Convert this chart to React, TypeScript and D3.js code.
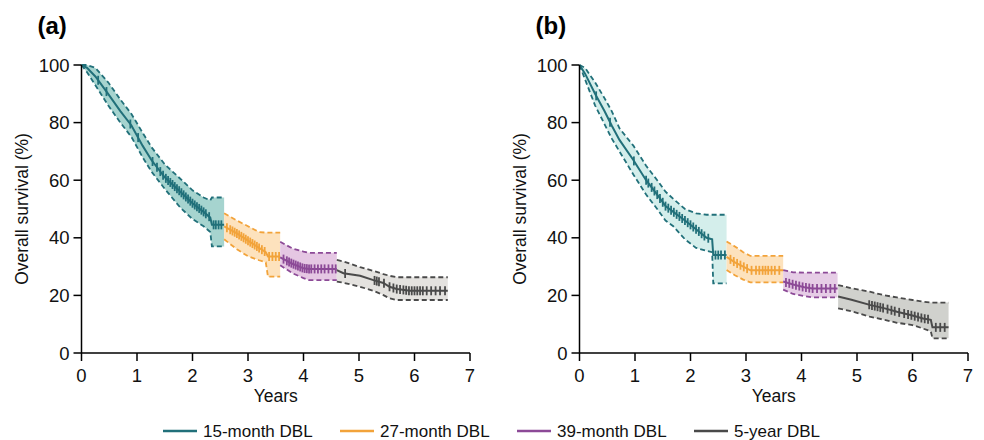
import React from 'react';
import * as d3 from 'd3';

const dblLabels = ['15-month DBL', '27-month DBL', '39-month DBL', '5-year DBL'];
const lineColors = ['#21707a', '#f2a33a', '#8c4a97', '#4a4a4a'];
const bandColorsA = ['#a6d4cf', '#fde2bd', '#e5c7e3', '#e4e2df'];
const bandColorsB = ['#d4eeeb', '#fde2bd', '#e6cde6', '#d0d1cd'];
const xTickValues = [0, 1, 2, 3, 4, 5, 6, 7];
const yTickValues = [0, 20, 40, 60, 80, 100];

// panel (a)
const a15Time = [0, 0.1, 0.25, 0.48, 0.7, 0.9, 1.1, 1.26, 1.5, 1.78, 2.0, 2.2, 2.32, 2.35, 2.57];
const a15Surv = [100, 99, 96, 90, 84, 79, 72, 67, 61, 56, 52, 49, 47, 44.5, 44.5];
const a15Upper = [100, 100, 99, 94, 88, 83, 76.5, 71.5, 65.5, 60.5, 56.5, 54, 53, 54, 54];
const a15Lower = [100, 97.5, 93, 86, 80, 75, 68, 63, 57, 50.5, 46.5, 44, 42, 37, 37];
const a15Censor = [0.3, 0.45, 0.88, 1.02, 1.28, 1.36, 1.42, 1.47, 1.52, 1.56, 1.6, 1.64, 1.68, 1.72, 1.76, 1.8, 1.84, 1.88, 1.92, 1.96, 2.0, 2.04, 2.08, 2.12, 2.16, 2.2, 2.24, 2.3, 2.38, 2.42, 2.47, 2.52];

const a27Time = [2.57, 2.8, 3.0, 3.2, 3.32, 3.36, 3.58];
const a27Surv = [44, 41.5, 39, 36.5, 35, 33.5, 33.5];
const a27Upper = [48.5, 46, 44, 42, 41.8, 41.8, 41.8];
const a27Lower = [39.5, 36, 33.6, 32.2, 31.5, 26.5, 26.5];
const a27Censor = [2.62, 2.68, 2.72, 2.76, 2.8, 2.84, 2.88, 2.92, 2.96, 3.0, 3.04, 3.08, 3.12, 3.16, 3.2, 3.25, 3.3, 3.38, 3.44, 3.5, 3.56];

const a39Time = [3.58, 3.8, 4.0, 4.1, 4.6];
const a39Surv = [33.2, 31, 29.4, 29.2, 29.2];
const a39Upper = [38.6, 36.3, 35.2, 34.8, 34.8];
const a39Lower = [30.5, 27.7, 26, 25.3, 25.3];
const a39Censor = [3.64, 3.7, 3.74, 3.78, 3.82, 3.86, 3.9, 3.94, 3.98, 4.02, 4.06, 4.1, 4.14, 4.2, 4.26, 4.32, 4.38, 4.45, 4.52, 4.58];

const a5Time = [4.6, 4.72, 5.02, 5.26, 5.44, 5.55, 5.68, 5.92, 6.6];
const a5Surv = [28.8, 27.7, 26.8, 25.3, 24.3, 23, 22.2, 21.6, 21.6];
const a5Upper = [32.3, 31.8, 29.8, 28.5, 27.4, 26.8, 26.3, 26.3, 26.3];
const a5Lower = [24.8, 24.4, 23, 21.6, 20.1, 19, 18.4, 18.4, 18.4];
const a5Censor = [4.75, 5.28, 5.32, 5.36, 5.45, 5.55, 5.62, 5.68, 5.74, 5.8, 5.85, 5.9, 5.95, 6.0, 6.05, 6.1, 6.15, 6.22, 6.3, 6.38, 6.46, 6.55];

// panel (b)
const b15Time = [0, 0.1, 0.28, 0.45, 0.58, 0.72, 0.97, 1.2, 1.4, 1.55, 1.69, 1.9, 2.1, 2.29, 2.39, 2.41, 2.65];
const b15Surv = [100, 97, 90, 84, 79, 74, 67, 60, 55, 51, 49, 46, 43, 40, 39.5, 34, 34];
const b15Upper = [100, 99, 94, 88.5, 84, 78, 72, 65, 60, 56, 53.5, 50, 48.5, 48, 48, 48, 48];
const b15Lower = [100, 95, 86, 79.5, 74.5, 70, 62, 55, 50, 46, 44, 39.5, 36.5, 35.5, 35, 24.2, 24.2];
const b15Censor = [0.3, 0.55, 0.98, 1.2, 1.24, 1.3, 1.35, 1.4, 1.45, 1.5, 1.55, 1.6, 1.65, 1.7, 1.75, 1.8, 1.85, 1.9, 1.95, 2.0, 2.05, 2.1, 2.15, 2.2, 2.25, 2.32, 2.45, 2.5, 2.55, 2.62];

const b27Time = [2.65, 2.8, 2.95, 3.08, 3.67];
const b27Surv = [33.4, 31.5, 30, 28.7, 28.7];
const b27Upper = [38.7, 37, 35, 33.7, 33.7];
const b27Lower = [28.8, 27, 25.5, 24.5, 24.5];
const b27Censor = [2.72, 2.78, 2.84, 2.9, 2.96, 3.02, 3.1, 3.18, 3.24, 3.3, 3.35, 3.4, 3.46, 3.52, 3.6];

const b39Time = [3.67, 3.85, 4.05, 4.2, 4.65];
const b39Surv = [24.8, 23.8, 22.8, 22.4, 22.4];
const b39Upper = [28.8, 28, 27.9, 27.9, 27.9];
const b39Lower = [22, 20.5, 19.8, 19.3, 19.3];
const b39Censor = [3.72, 3.78, 3.84, 3.9, 3.96, 4.02, 4.08, 4.14, 4.2, 4.28, 4.36, 4.44, 4.52, 4.6];

const b5Time = [4.66, 4.9, 5.23, 5.5, 5.72, 6.0, 6.19, 6.33, 6.36, 6.65];
const b5Surv = [19.6, 18.5, 16.7, 15.5, 14.3, 13, 12, 11.5, 8.9, 8.9];
const b5Upper = [23.6, 22.5, 21.3, 20, 19.3, 18.4, 17.8, 17.5, 17.5, 17.5];
const b5Lower = [15.5, 14.5, 12.6, 11.5, 10.5, 9.7, 8.5, 7.5, 5.1, 5.1];
const b5Censor = [5.22, 5.27, 5.32, 5.37, 5.42, 5.47, 5.55, 5.62, 5.68, 5.76, 5.85, 5.92, 5.98, 6.04, 6.1, 6.16, 6.22, 6.28, 6.42, 6.5, 6.58];

type Segment = { time: number[]; surv: number[]; upper: number[]; lower: number[]; censor: number[] };

const panelA: Segment[] = [
  { time: a15Time, surv: a15Surv, upper: a15Upper, lower: a15Lower, censor: a15Censor },
  { time: a27Time, surv: a27Surv, upper: a27Upper, lower: a27Lower, censor: a27Censor },
  { time: a39Time, surv: a39Surv, upper: a39Upper, lower: a39Lower, censor: a39Censor },
  { time: a5Time, surv: a5Surv, upper: a5Upper, lower: a5Lower, censor: a5Censor },
];
const panelB: Segment[] = [
  { time: b15Time, surv: b15Surv, upper: b15Upper, lower: b15Lower, censor: b15Censor },
  { time: b27Time, surv: b27Surv, upper: b27Upper, lower: b27Lower, censor: b27Censor },
  { time: b39Time, surv: b39Surv, upper: b39Upper, lower: b39Lower, censor: b39Censor },
  { time: b5Time, surv: b5Surv, upper: b5Upper, lower: b5Lower, censor: b5Censor },
];

const FONT = '"Liberation Sans", Arial, Helvetica, sans-serif';
const top = 65;
const bottom = 353;
const plotW = 388.5;

const Panel = ({ x0, label, segments, bands }: { x0: number; label: string; segments: Segment[]; bands: string[] }) => {
  const x = d3.scaleLinear().domain([0, 7]).range([x0, x0 + plotW]);
  const y = d3.scaleLinear().domain([0, 100]).range([bottom, top]);

  const pathFor = (seg: Segment, key: 'surv' | 'upper' | 'lower') =>
    d3.line<number>().x((_, i) => x(seg.time[i])).y((d) => y(d))(seg[key]) || '';
  const areaFor = (seg: Segment) =>
    d3.area<number>()
      .x((_, i) => x(seg.time[i]))
      .y0((_, i) => y(seg.lower[i]))
      .y1((_, i) => y(seg.upper[i]))(seg.surv) || '';

  return (
    <g>
      <text x={x0 - 44} y={34} fontSize={24} fontWeight="bold" fontFamily={FONT}>{label}</text>

      {segments.map((seg, k) => (
        <path key={'band' + k} d={areaFor(seg)} fill={bands[k]} />
      ))}
      {segments.map((seg, k) => (
        <g key={'ci' + k} fill="none" stroke={lineColors[k]} strokeWidth={1.8} strokeDasharray="5 3">
          <path d={pathFor(seg, 'upper')} />
          <path d={pathFor(seg, 'lower')} />
        </g>
      ))}
      {segments.map((seg, k) => {
        const survAt = d3.scaleLinear().domain(seg.time).range(seg.surv);
        return (
          <g key={'km' + k} stroke={lineColors[k]}>
            <path d={pathFor(seg, 'surv')} fill="none" strokeWidth={2} />
            {seg.censor.map((c, j) => (
              <line key={j} x1={x(c)} x2={x(c)} y1={y(survAt(c)) - 4.5} y2={y(survAt(c)) + 4.5} strokeWidth={1.8} />
            ))}
          </g>
        );
      })}

      {/* axes */}
      <g stroke="#000" strokeWidth={1.5}>
        <line x1={x0} x2={x0} y1={top} y2={bottom} />
        <line x1={x0} x2={x0 + plotW} y1={bottom} y2={bottom} />
        {yTickValues.map((t) => (
          <line key={'yt' + t} x1={x0 - 8} x2={x0} y1={y(t)} y2={y(t)} />
        ))}
        {xTickValues.map((t) => (
          <line key={'xt' + t} x1={x(t)} x2={x(t)} y1={bottom} y2={bottom + 8} />
        ))}
      </g>
      <g fontFamily={FONT} fontSize={18.5} fill="#111">
        {yTickValues.map((t) => (
          <text key={'yl' + t} x={x0 - 12} y={y(t)} dy="0.36em" textAnchor="end">{t}</text>
        ))}
        {xTickValues.map((t) => (
          <text key={'xl' + t} x={x(t)} y={bottom + 29} textAnchor="middle">{t}</text>
        ))}
      </g>
      <text
        transform={`translate(${x0 - 60},${(top + bottom) / 2}) rotate(-90)`}
        textAnchor="middle"
        dy="0.35em"
        fontFamily={FONT}
        fontSize={17.5}
        fill="#111"
      >
        Overall survival (%)
      </text>
      <text x={x0 + plotW / 2} y={402} textAnchor="middle" fontFamily={FONT} fontSize={17.5} fill="#111">Years</text>
    </g>
  );
};

export default function App() {
  const legendStart = 163;
  const legendStep = 177;
  return (
    <svg width={984} height={440} style={{ position: 'absolute', left: 0, top: 0, background: '#fff' }}>
      <Panel x0={81.5} label="(a)" segments={panelA} bands={bandColorsA} />
      <Panel x0={579.5} label="(b)" segments={panelB} bands={bandColorsB} />
      <g fontFamily={FONT} fontSize={17} fill="#111">
        {dblLabels.map((name, i) => {
          const lx = legendStart + i * legendStep;
          return (
            <g key={name}>
              <line x1={lx} x2={lx + 34} y1={431} y2={431} stroke={lineColors[i]} strokeWidth={2.5} />
              <text x={lx + 40} y={437}>{name}</text>
            </g>
          );
        })}
      </g>
    </svg>
  );
}
